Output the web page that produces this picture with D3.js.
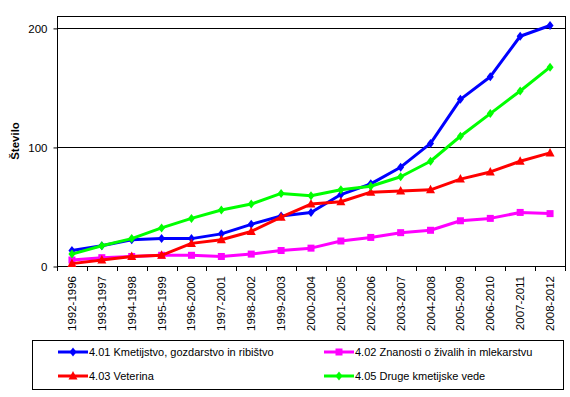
<!DOCTYPE html>
<html>
<head>
<meta charset="utf-8">
<script src="https://cdn.jsdelivr.net/npm/d3@7"></script>
<style>
  html, body { margin: 0; padding: 0; background: #fff; }
  svg { display: block; font-family: "Liberation Sans", Arial, sans-serif; }
</style>
</head>
<body>
<svg id="chart" width="570" height="397"></svg>
<script>
// ── data ─────────────────────────────────────
const periods = [
  '1992-1996', '1993-1997', '1994-1998', '1995-1999', '1996-2000', '1997-2001',
  '1998-2002', '1999-2003', '2000-2004', '2001-2005', '2002-2006', '2003-2007',
  '2004-2008', '2005-2009', '2006-2010', '2007-2011', '2008-2012'
];
const kmetijstvo = [13, 17, 22, 23, 23, 27, 35, 42, 45, 60, 69, 83, 103, 140, 159, 193, 202];
const znanosti   = [5, 7, 8, 9, 9, 8, 10, 13, 15, 21, 24, 28, 30, 38, 40, 45, 44];
const veterina   = [2, 5, 8, 9, 19, 22, 29, 41, 52, 54, 62, 63, 64, 73, 79, 88, 95];
const druge      = [10, 17, 23, 32, 40, 47, 52, 61, 59, 64, 67, 75, 88, 109, 128, 147, 167];
const yTicks = [0, 100, 200];

const series = [
  { name: '4.01 Kmetijstvo, gozdarstvo in ribištvo', values: kmetijstvo, color: '#0000ff', marker: 'diamond' },
  { name: '4.02 Znanosti o živalih in mlekarstvu',   values: znanosti,   color: '#ff00ff', marker: 'square' },
  { name: '4.03 Veterina',                           values: veterina,   color: '#ff0000', marker: 'triangle' },
  { name: '4.05 Druge kmetijske vede',               values: druge,      color: '#00ff00', marker: 'diamond' },
];

const FONT = '"Liberation Sans", Arial, sans-serif';

// ── layout ───────────────────────────────────
const svg = d3.select('#chart');
const plot = { left: 57, right: 565, top: 16, bottom: 266 };

const x = d3.scaleBand().domain(periods).range([plot.left, plot.right]);
const y = d3.scaleLinear().domain([0, 210]).range([plot.bottom, plot.top]);

// grid lines
svg.append('g').selectAll('line').data(yTicks.filter(t => t > 0)).enter().append('line')
  .attr('x1', plot.left).attr('x2', plot.right)
  .attr('y1', d => Math.round(y(d)) + 0.5).attr('y2', d => Math.round(y(d)) + 0.5)
  .attr('stroke', '#000').attr('stroke-width', 1);

// plot border
svg.append('rect')
  .attr('x', plot.left + 0.5).attr('y', plot.top + 0.5)
  .attr('width', plot.right - plot.left).attr('height', plot.bottom - plot.top)
  .attr('fill', 'none').attr('stroke', '#000');

// y axis
const yAxis = svg.append('g')
  .attr('transform', `translate(${plot.left + 0.5},0.5)`)
  .call(d3.axisLeft(y).tickValues(yTicks).tickSize(4).tickPadding(6));
yAxis.select('.domain').remove();
yAxis.selectAll('line').attr('stroke', '#000');
yAxis.selectAll('text').attr('font-size', 11.5).attr('fill', '#000').attr('font-family', FONT);

// x axis: ticks at category boundaries
const bounds = periods.map(p => x(p)).concat([plot.right]);
svg.append('g').selectAll('line').data(bounds).enter().append('line')
  .attr('x1', d => Math.round(d) + 0.5).attr('x2', d => Math.round(d) + 0.5)
  .attr('y1', plot.bottom).attr('y2', plot.bottom + 5)
  .attr('stroke', '#000');

svg.append('g').selectAll('text').data(periods).enter().append('text')
  .attr('transform', d => `translate(${x(d) + x.bandwidth() / 2 + 4},${plot.bottom + 10}) rotate(-90)`)
  .attr('text-anchor', 'end')
  .attr('font-family', FONT)
  .attr('font-size', 11.5)
  .attr('fill', '#000')
  .text(d => d);

// y label
svg.append('text')
  .attr('transform', `translate(19,${(plot.top + plot.bottom) / 2}) rotate(-90)`)
  .attr('text-anchor', 'middle')
  .attr('font-family', FONT)
  .attr('font-size', 11.5).attr('font-weight', 'bold')
  .text('Število');

// ── lines & markers ──────────────────────────
const line = d3.line()
  .x((d, i) => x(periods[i]) + x.bandwidth() / 2)
  .y(d => y(d));

function drawMarker(g, type, color, cx, cy) {
  if (type === 'square') {
    g.append('rect').attr('x', cx - 3.5).attr('y', cy - 3.5).attr('width', 7).attr('height', 7).attr('fill', color);
  } else if (type === 'triangle') {
    g.append('path').attr('d', `M${cx},${cy - 5}L${cx + 4.5},${cy + 3.5}L${cx - 4.5},${cy + 3.5}Z`).attr('fill', color);
  } else {
    g.append('path').attr('d', `M${cx},${cy - 4.5}L${cx + 3.5},${cy}L${cx},${cy + 4.5}L${cx - 3.5},${cy}Z`).attr('fill', color);
  }
}

series.forEach(s => {
  const g = svg.append('g');
  g.append('path').datum(s.values)
    .attr('d', line).attr('fill', 'none')
    .attr('stroke', s.color).attr('stroke-width', 3).attr('stroke-linejoin', 'round');
  s.values.forEach((v, i) => drawMarker(g, s.marker, s.color, x(periods[i]) + x.bandwidth() / 2, y(v)));
});

// ── legend ───────────────────────────────────
const lg = svg.append('g');
lg.append('rect').attr('x', 32.5).attr('y', 340.5).attr('width', 531).attr('height', 49)
  .attr('fill', '#fff').attr('stroke', '#000');
const legendPos = [
  { x: 58, y: 352 }, { x: 324, y: 352 },
  { x: 58, y: 376 }, { x: 324, y: 376 },
];
series.forEach((s, i) => {
  const p = legendPos[i];
  lg.append('line').attr('x1', p.x).attr('x2', p.x + 30).attr('y1', p.y).attr('y2', p.y)
    .attr('stroke', s.color).attr('stroke-width', 3);
  drawMarker(lg, s.marker, s.color, p.x + 15, p.y);
  lg.append('text').attr('x', p.x + 31).attr('y', p.y + 4)
    .attr('font-family', FONT)
    .attr('font-size', 11).attr('fill', '#000').text(s.name);
});
</script>
</body>
</html>
